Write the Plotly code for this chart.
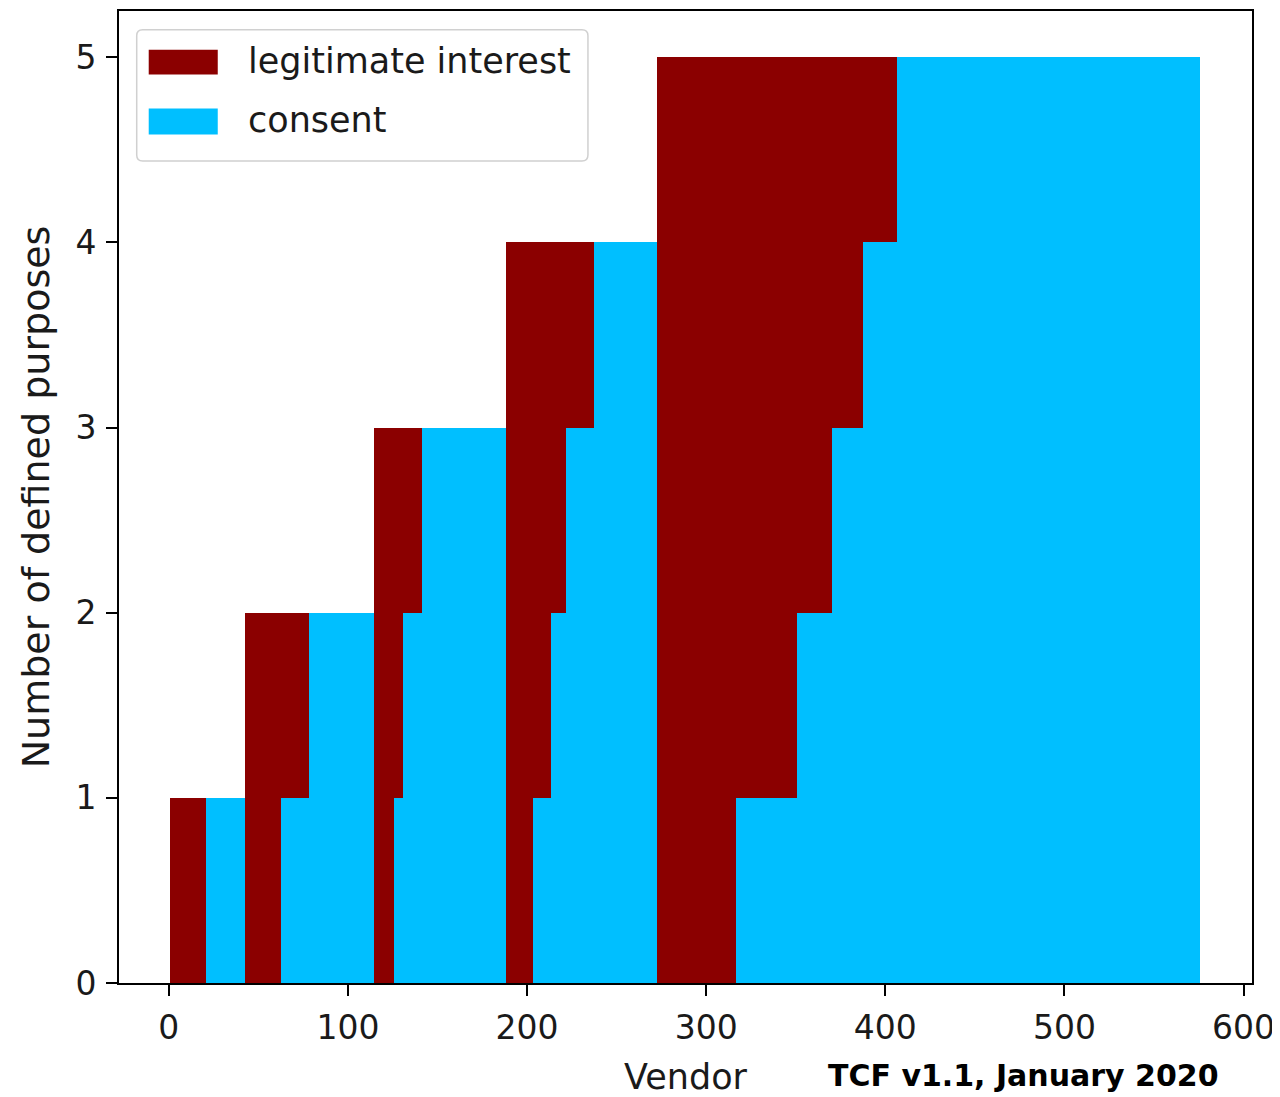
import numpy as np
import plotly.graph_objects as go

# ---- data ----
total_purposes = [1, 1, 2, 2, 2, 3, 3, 3, 3, 4, 4, 4, 4, 4, 5, 5, 5, 5, 5, 5]
li_purposes    = [1, 0, 2, 1, 0, 3, 2, 1, 0, 4, 3, 2, 1, 0, 5, 4, 3, 2, 1, 0]
vendor_counts  = [20, 22, 20, 16, 36, 11, 5, 11, 47, 15, 10, 8, 16, 35, 44, 34, 20, 17, 19, 169]
first_vendor = 1
series_names = ["legitimate interest", "consent"]
x_ticks = [0, 100, 200, 300, 400, 500, 600]
y_ticks = [0, 1, 2, 3, 4, 5]
x_title = "Vendor"
y_title = "Number of defined purposes"
footer = "TCF v1.1, January 2020"

# ---- style ----
LI_COLOR = "#8b0000"
CONSENT_COLOR = "#00bfff"
FONT = "DejaVu Sans"
OFF = 8                      # page body margin of the html page
W, H = 1280 - OFF, 1097 - OFF
# plot area in page pixels
PL, PR, PT, PB = 119.3, 1251.7, 9.3, 982.7
ML, MR, MT, MB = PL - OFF, W - (PR - OFF), PT - OFF, H - (PB - OFF)

counts = np.array(vendor_counts, dtype=float)
total = np.array(total_purposes, dtype=float)
li = np.array(li_purposes, dtype=float)
consent = total - li
starts = first_vendor - 0.5 + np.cumsum(counts) - counts
centers = starts + counts / 2

fig = go.Figure()
fig.add_trace(go.Bar(
    name=series_names[1], x=centers, y=consent, base=0, width=counts,
    marker=dict(color=CONSENT_COLOR, line=dict(width=0)), showlegend=False))
fig.add_trace(go.Bar(
    name=series_names[0], x=centers, y=li, base=consent, width=counts,
    marker=dict(color=LI_COLOR, line=dict(width=0)), showlegend=False))

pw = PR - PL
ph = PB - PT


def px2paper_x(px):
    return (px - PL) / pw


def px2paper_y(py):
    return (PB - py) / ph


# ---- manual legend (matplotlib style) ----
bx0, bx1, by0, by1 = px2paper_x(137), px2paper_x(588), px2paper_y(28), px2paper_y(159.5)
rx, ry = 6 / pw, 6 / ph
path = (f"M {bx0+rx},{by0} L {bx1-rx},{by0} Q {bx1},{by0} {bx1},{by0-ry} "
        f"L {bx1},{by1+ry} Q {bx1},{by1} {bx1-rx},{by1} L {bx0+rx},{by1} "
        f"Q {bx0},{by1} {bx0},{by1+ry} L {bx0},{by0-ry} Q {bx0},{by0} {bx0+rx},{by0} Z")
shapes = [dict(type="path", xref="paper", yref="paper", path=path,
               fillcolor="rgba(255,255,255,0.85)", line=dict(color="#d0d0d0", width=1.5))]
legend_rows = [(series_names[0], LI_COLOR, 48, 73, 59),
               (series_names[1], CONSENT_COLOR, 107, 133, 118)]
annotations = []
for name, color, t, b, cy in legend_rows:
    shapes.append(dict(type="rect", xref="paper", yref="paper",
                       x0=px2paper_x(149), x1=px2paper_x(218),
                       y0=px2paper_y(b), y1=px2paper_y(t),
                       fillcolor=color, line=dict(width=0)))
    annotations.append(dict(xref="paper", yref="paper", x=px2paper_x(246), y=px2paper_y(cy),
                            xanchor="left", yanchor="middle", showarrow=False, text=name,
                            font=dict(family=FONT, size=35, color="#1a1a1a")))

annotations.append(dict(xref="paper", yref="paper", x=px2paper_x(826), y=px2paper_y(1095),
                        xanchor="left", yanchor="bottom", showarrow=False,
                        text=f"<b>{footer}</b>",
                        font=dict(family=FONT, size=30, color="#000000")))

axis_common = dict(showline=True, mirror=True, linecolor="#000000", linewidth=1.6,
                   ticks="outside", ticklen=11, tickwidth=1.6, tickcolor="#000000",
                   showgrid=False, zeroline=False,
                   tickfont=dict(family=FONT, size=33, color="#1a1a1a"))

fig.update_layout(
    width=W, height=H,
    margin=dict(l=ML, r=MR, t=MT, b=MB, pad=0),
    plot_bgcolor="white", paper_bgcolor="white",
    barmode="overlay", bargap=0,
    xaxis=dict(range=[-27.8, 604.7], tickvals=x_ticks, ticklabelstandoff=4, **axis_common,
               title=dict(text=x_title, standoff=18,
                          font=dict(family=FONT, size=35, color="#1a1a1a"))),
    yaxis=dict(range=[0, 5.25], tickvals=y_ticks, ticklabelstandoff=3, **axis_common,
               title=dict(text=y_title, standoff=14,
                          font=dict(family=FONT, size=38, color="#1a1a1a"))),
    shapes=shapes,
    annotations=annotations,
    showlegend=False,
)

fig.write_html("out.html")
